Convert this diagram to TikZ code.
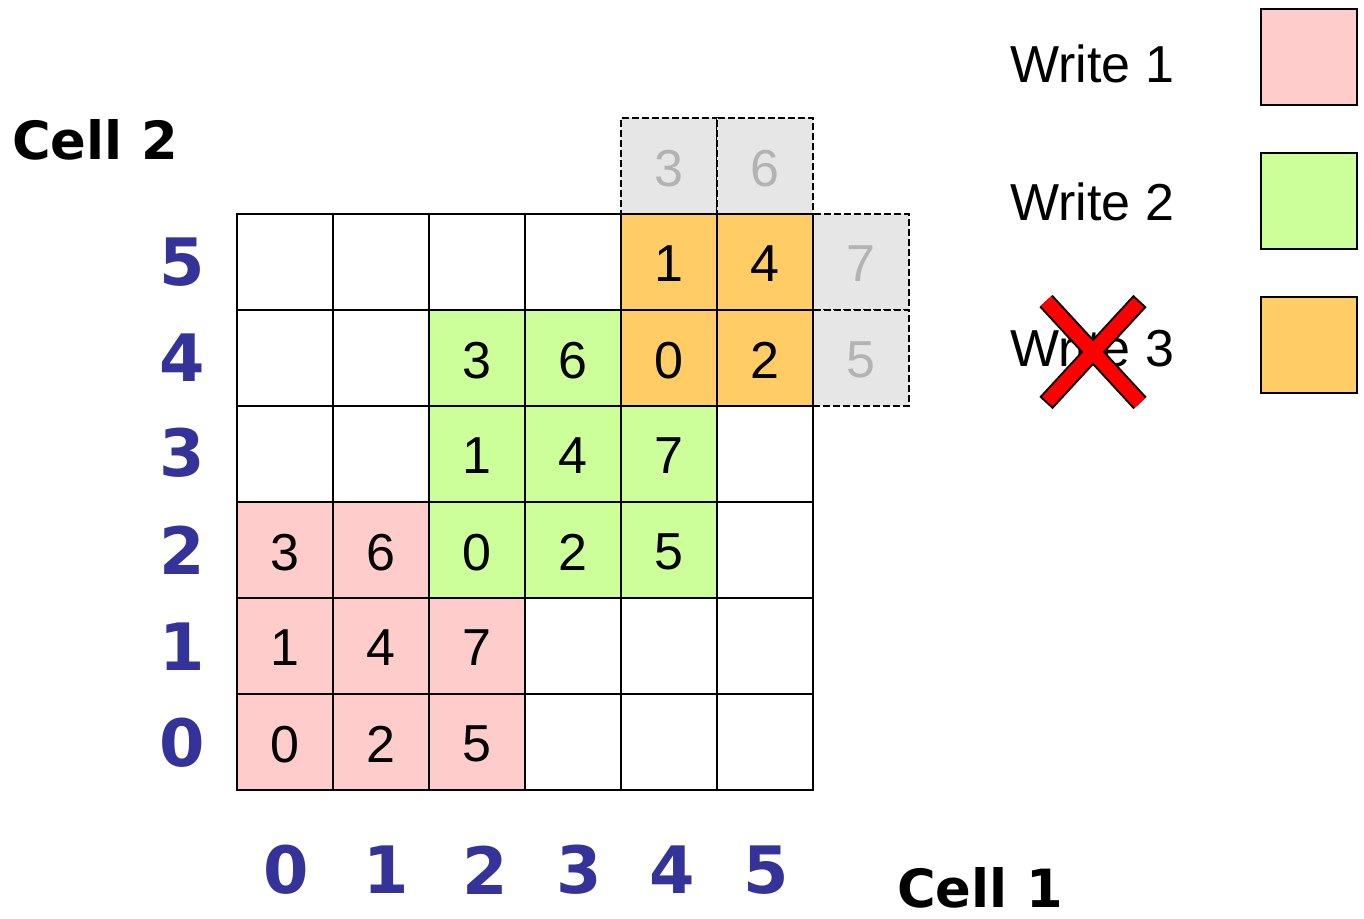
\documentclass[tikz,border=0pt]{standalone}
\usepackage{fontspec}
\setmainfont{Liberation Sans}
\newfontfamily\labfont{DejaVu Sans}
\definecolor{wone}{HTML}{FFCCCC}
\definecolor{wtwo}{HTML}{CCFF99}
\definecolor{wthree}{HTML}{FFCC66}
\definecolor{ghostfill}{HTML}{E6E6E6}
\definecolor{ghosttext}{HTML}{B3B3B3}
\definecolor{axisblue}{HTML}{333399}
\newcommand{\lowr}[1]{\raisebox{-1.5pt}[\height][0pt]{#1}}
\begin{document}
\begin{tikzpicture}[x=0.75pt,y=-0.75pt,
  cell/.style={draw=black, line width=1.5pt, minimum size=72pt, inner sep=0pt,
    font=\fontsize{39}{39}\selectfont, text=black},
  ghost/.style={cell, fill=ghostfill, text=ghosttext, dash pattern=on 5pt off 2.5pt},
  axislab/.style={font=\labfont\bfseries\fontsize{49}{49}\selectfont, text=axisblue, inner sep=0pt},
  celllab/.style={font=\labfont\bfseries\fontsize{39.5}{39.5}\selectfont, text=black, inner sep=0pt},
  legtext/.style={font=\fontsize{39}{39}\selectfont, inner sep=0pt},
  legbox/.style={draw=black, line width=1.5pt, minimum size=72pt, inner sep=0pt}]
\useasboundingbox (0,0) rectangle (1364,918);
% ghost cells
\foreach \c/\r/\t in {4/6/3, 5/6/6, 6/5/7, 6/4/5}
  \node[ghost] (g\c\r) at ({285+96*\c},{742-96*\r}) {\lowr{\t}};
% empty grid cells
\foreach \c/\r in {3/0, 4/0, 5/0, 3/1, 4/1, 5/1, 5/2, 0/3, 1/3, 5/3, 0/4, 1/4, 0/5, 1/5, 2/5, 3/5}
  \node[cell, fill=white] (c\c\r) at ({285+96*\c},{742-96*\r}) {};
% written cells
\foreach \c/\r/\f/\t in {0/0/wone/0, 1/0/wone/2, 2/0/wone/5, 0/1/wone/1, 1/1/wone/4, 2/1/wone/7, 0/2/wone/3, 1/2/wone/6,
  2/2/wtwo/0, 3/2/wtwo/2, 4/2/wtwo/5, 2/3/wtwo/1, 3/3/wtwo/4, 4/3/wtwo/7, 2/4/wtwo/3, 3/4/wtwo/6,
  4/4/wthree/0, 5/4/wthree/2, 4/5/wthree/1, 5/5/wthree/4}
  \node[cell, fill=\f] (c\c\r) at ({285+96*\c},{742-96*\r}) {\lowr{\t}};
% row labels
\foreach \r/\y in {0/743, 1/647, 2/550, 3/453, 4/358, 5/262}
  \node[axislab] (row\r) at (182,\y) {\r};
% column labels
\foreach \c/\x in {0/286, 1/386, 2/485, 3/579, 4/672, 5/766}
  \node[axislab] (col\c) at (\x,870) {\c};
\node[celllab, anchor=west] (cell2) at (12,140) {Cell 2};
\node[celllab, anchor=west] (cell1) at (897,888) {Cell 1};
% legend
\node[legtext, anchor=base west] (l1) at (1010,82) {Write 1};
\node[legtext, anchor=base west] (l2) at (1010,220) {Write 2};
\node[legtext, anchor=base west] (l3) at (1010,366) {Write 3};
\node[legbox, fill=wone] (b1) at (1309,57) {};
\node[legbox, fill=wtwo] (b2) at (1309,201) {};
\node[legbox, fill=wthree] (b3) at (1309,345) {};
% cross
\coordinate (xa) at (1046,301);
\coordinate (xb) at (1140,403);
\coordinate (xc) at (1140,301);
\coordinate (xd) at (1046,403);
\draw[line width=13.5pt, black] (xa) -- (xb) (xc) -- (xd);
\draw[line width=10.5pt, red, shorten >=1.5pt, shorten <=1.5pt] (xa) -- (xb) (xc) -- (xd);
\end{tikzpicture}
\end{document}
